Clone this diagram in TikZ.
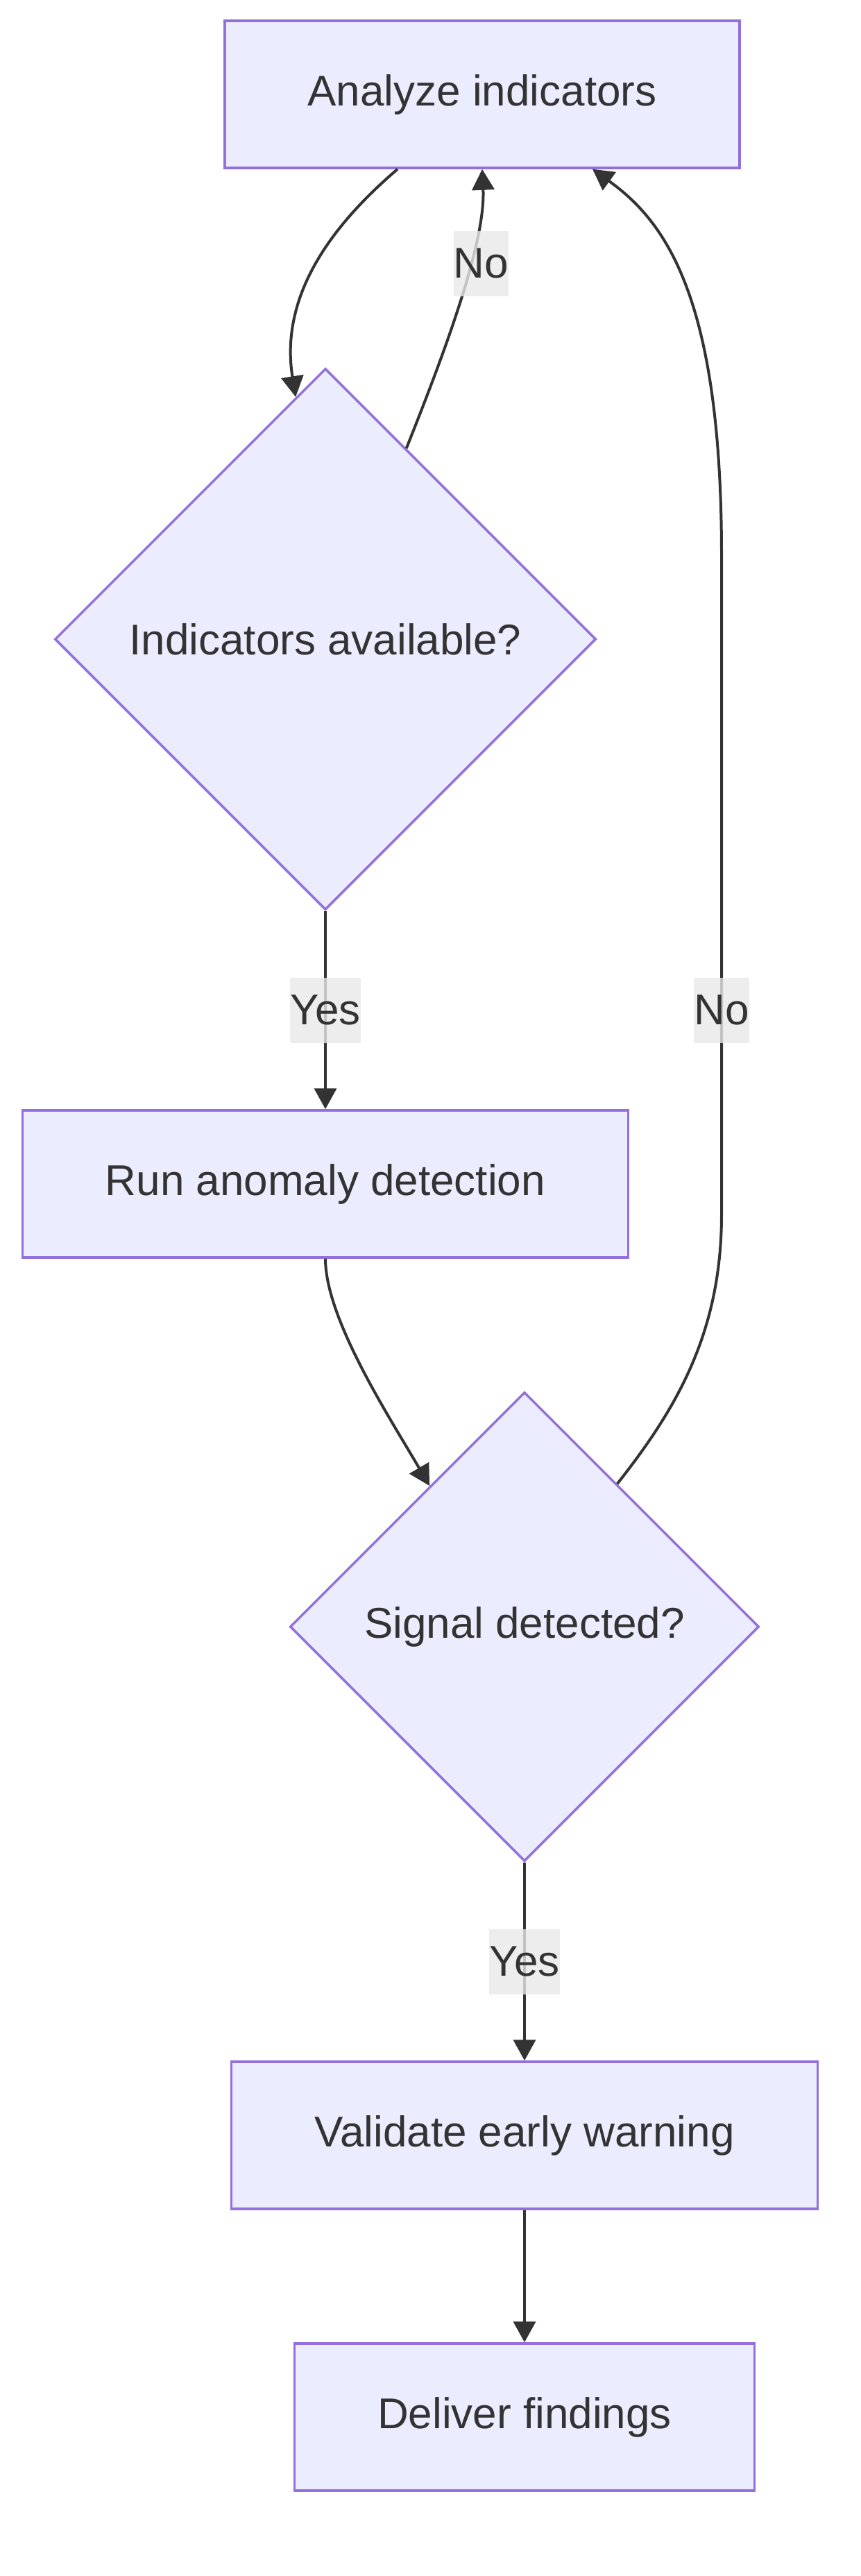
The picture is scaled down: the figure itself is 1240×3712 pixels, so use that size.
\documentclass[tikz,border=0pt]{standalone}
\usepackage{fontspec}
\setmainfont{Liberation Sans}
\usetikzlibrary{arrows.meta,shapes.geometric}
\definecolor{nodefill}{HTML}{ECECFF}
\definecolor{nodeline}{HTML}{9370DB}
\definecolor{inkgray}{HTML}{333333}
\definecolor{labelfill}{HTML}{E8E8E8}

\begin{document}
\begin{tikzpicture}[x=1pt,y=-1pt,
  every node/.style={font=\fontsize{62}{74}\selectfont,text=inkgray},
  stepbox/.style={draw=nodeline,fill=nodefill,line width=3.5pt,minimum height=212pt,inner sep=0pt},
  decision/.style={diamond,aspect=1,draw=nodeline,fill=nodefill,line width=3.5pt,inner sep=0pt},
  flow/.style={draw=inkgray,line width=4pt,-{Triangle[length=30pt,width=32pt]}},
  edgelabel/.style={fill=labelfill,fill opacity=0.8,text opacity=1,inner xsep=0pt,minimum height=94pt}]
  \useasboundingbox (0,0) rectangle (1240,3712);

  % steps and decisions
  \node[stepbox,minimum width=742pt] (analyze) at (695,136) {Analyze indicators};
  \node[decision,minimum width=780pt,minimum height=780pt] (avail) at (469,921) {Indicators available?};
  \node[stepbox,minimum width=873pt] (run) at (469,1706) {Run anomaly detection};
  \node[decision,minimum width=676pt,minimum height=676pt] (sig) at (756,2344) {Signal detected?};
  \node[stepbox,minimum width=845pt] (validate) at (756,3077) {Validate early warning};
  \node[stepbox,minimum width=663pt] (deliver) at (756,3483) {Deliver findings};

  % connectors
  \draw[flow] ([xshift=-122pt]analyze.south) .. controls (460,340) and (405,440) .. (avail.97);
  \draw[flow] (avail.67) .. controls (640,510) and (700,350) ..
    node[edgelabel,pos=0.63,xshift=16pt] {No} (analyze.south);
  \draw[flow] (avail.south) -- node[edgelabel] {Yes} (run.north);
  \draw[flow] (run.south) .. controls (469,1900) and (560,2040) .. (sig.124);
  \draw[flow] (sig.57) .. controls (975,2030) and (1040,1920) .. (1040,1750)
    -- node[edgelabel,pos=0.31] {No} (1040,800)
    .. controls (1040,430) and (960,320) .. ([xshift=159pt]analyze.south);
  \draw[flow] (sig.south) -- node[edgelabel] {Yes} (validate.north);
  \draw[flow] (validate.south) -- (deliver.north);
\end{tikzpicture}
\end{document}
